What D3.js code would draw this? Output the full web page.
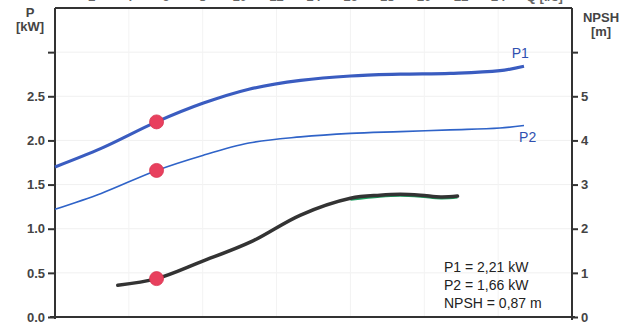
<!DOCTYPE html>
<html><head><meta charset="utf-8">
<script src="https://cdn.jsdelivr.net/npm/d3@7"></script>
<style>body{margin:0;background:#fff}svg{display:block;font-family:"Liberation Sans",Arial,sans-serif}</style>
</head><body><svg id="c" width="629" height="324"></svg>
<script>
// Data
const p1Q   = [0, 2.5, 5.5, 8, 10.5, 13.3, 16, 18.7, 21.4, 24.1, 25.4];
const p1Val = [1.70, 1.91, 2.21, 2.42, 2.58, 2.68, 2.73, 2.75, 2.76, 2.79, 2.84];
const p2Q   = [0, 2.5, 5.5, 8, 10.5, 13.3, 16, 18.7, 21.4, 24.1, 25.4];
const p2Val = [1.22, 1.40, 1.66, 1.83, 1.97, 2.04, 2.08, 2.10, 2.12, 2.14, 2.17];
const npshQ   = [3.4, 5.5, 7.9, 10.6, 13.3, 16, 17.6, 18.7, 19.8, 20.9, 21.8];
const npshVal = [0.72, 0.87, 1.25, 1.70, 2.31, 2.69, 2.76, 2.78, 2.76, 2.72, 2.74];
const dutyQ = 5.5;
const dutyP1 = 2.21, dutyP2 = 1.66, dutyNPSH = 0.87;
const leftTicks = [0, 0.5, 1.0, 1.5, 2.0, 2.5, 3.0];
const leftTickLabels = ["0.0", "0.5", "1.0", "1.5", "2.0", "2.5", ""];
const rightTicks = [0, 1, 2, 3, 4, 5, 6];
const rightTickLabels = ["0", "1", "2", "3", "4", "5", ""];
const topTicks = [2, 4, 6, 8, 10, 12, 14, 16, 18, 20, 22, 24];
const infoLines = ["P1 = 2,21 kW", "P2 = 1,66 kW", "NPSH = 0,87 m"];

const svg = d3.select("#c");
const L = 55, R = 572, T = 8, B = 317;
const x = d3.scaleLinear().domain([0, 28]).range([L, R]);
const yL = d3.scaleLinear().domain([0, 3.5]).range([B, T]);
const yR = d3.scaleLinear().domain([0, 7]).range([B, T]);

// faint grid
svg.append("g").selectAll("line").data(leftTicks.slice(1)).join("line")
  .attr("x1", L).attr("x2", R).attr("y1", d => yL(d)).attr("y2", d => yL(d))
  .attr("stroke", "#f0f0f0").attr("stroke-width", 1);
svg.append("g").selectAll("line").data([4, 8, 12, 16, 20, 24]).join("line")
  .attr("x1", d => x(d)).attr("x2", d => x(d)).attr("y1", T).attr("y2", B)
  .attr("stroke", "#f3f3f3").attr("stroke-width", 1);

// top tick labels (cut off at the top edge, as in the scan)
svg.append("g").selectAll("text").data(topTicks).join("text")
  .attr("x", d => x(d)).attr("y", 1).attr("text-anchor", "middle")
  .attr("font-size", 13).attr("font-weight", "bold").attr("fill", "#666").text(d => d);
svg.append("text").attr("x", x(26.5)).attr("y", 1).attr("text-anchor", "middle")
  .attr("font-size", 13).attr("font-weight", "bold").attr("fill", "#666").text("Q [l/s]");

// frame / axes
const ax = svg.append("g").attr("stroke", "#333").attr("stroke-width", 2).attr("fill", "none");
ax.append("line").attr("x1", L).attr("x2", R).attr("y1", T).attr("y2", T);
ax.append("line").attr("x1", L).attr("x2", L).attr("y1", T).attr("y2", B + 2);
ax.append("line").attr("x1", R).attr("x2", R).attr("y1", T).attr("y2", B + 3);
ax.append("line").attr("x1", L - 5).attr("x2", R + 3).attr("y1", B).attr("y2", B);

const leftAxis = d3.axisLeft(yL).tickValues(leftTicks).tickSize(7).tickPadding(3)
  .tickFormat((d, i) => leftTickLabels[i]);
const gL = svg.append("g").attr("transform", `translate(${L},0)`).call(leftAxis);
gL.select(".domain").remove();
gL.selectAll(".tick line").attr("stroke", "#333").attr("stroke-width", 2);
gL.selectAll(".tick text").attr("font-size", 13).attr("font-weight", "bold").attr("fill", "#444")
  .attr("font-family", "Liberation Sans, Arial, sans-serif");

const rightAxis = d3.axisRight(yR).tickValues(rightTicks).tickSize(6).tickPadding(3)
  .tickFormat((d, i) => rightTickLabels[i]);
const gR = svg.append("g").attr("transform", `translate(${R},0)`).call(rightAxis);
gR.select(".domain").remove();
gR.selectAll(".tick line").attr("stroke", "#333").attr("stroke-width", 2);
gR.selectAll(".tick text").attr("font-size", 13).attr("font-weight", "bold").attr("fill", "#444")
  .attr("font-family", "Liberation Sans, Arial, sans-serif");

// axis titles
const tL = svg.append("text").attr("text-anchor", "middle").attr("font-size", 13).attr("font-weight", "bold").attr("fill", "#444");
tL.append("tspan").attr("x", 30).attr("y", 17).text("P");
tL.append("tspan").attr("x", 30).attr("y", 31).text("[kW]");
const tR = svg.append("text").attr("text-anchor", "middle").attr("font-size", 13).attr("font-weight", "bold").attr("fill", "#444");
tR.append("tspan").attr("x", 601).attr("y", 22).text("NPSH");
tR.append("tspan").attr("x", 601).attr("y", 36).text("[m]");

// curves
const curve = d3.curveMonotoneX;
const lineL = d3.line().x(d => x(d[0])).y(d => yL(d[1])).curve(curve);
const lineR = d3.line().x(d => x(d[0])).y(d => yR(d[1])).curve(d3.curveCatmullRom.alpha(0.5));

svg.append("path").datum(d3.zip(p2Q, p2Val)).attr("d", lineL)
  .attr("fill", "none").attr("stroke", "#2f63c8").attr("stroke-width", 1.6);
svg.append("path").datum(d3.zip(p1Q, p1Val)).attr("d", lineL)
  .attr("fill", "none").attr("stroke", "#3a5cc0").attr("stroke-width", 3.2);

const npsh = d3.zip(npshQ, npshVal);
svg.append("path").datum(npsh.filter(d => d[0] >= 16)).attr("d", lineR)
  .attr("transform", "translate(0,1.3)")
  .attr("fill", "none").attr("stroke", "#1fa060").attr("stroke-width", 2.5);
svg.append("path").datum(npsh).attr("d", lineR)
  .attr("fill", "none").attr("stroke", "#333").attr("stroke-width", 3.5).attr("stroke-linecap", "round");

// labels P1 / P2
svg.append("text").attr("x", x(25.2)).attr("y", yL(2.84) - 8).attr("text-anchor", "middle")
  .attr("font-size", 14).attr("fill", "#3050b0").text("P1");
svg.append("text").attr("x", x(25.6)).attr("y", yL(2.17) + 17).attr("text-anchor", "middle")
  .attr("font-size", 14).attr("fill", "#3050b0").text("P2");

// duty point markers
const markers = [[dutyQ, yL(dutyP1)], [dutyQ, yL(dutyP2)], [dutyQ, yR(dutyNPSH)]];
svg.append("g").selectAll("circle").data(markers).join("circle")
  .attr("cx", d => x(d[0])).attr("cy", d => d[1]).attr("r", 7)
  .attr("fill", "#e8405e").attr("stroke", "#d8334f").attr("stroke-width", 0.8);

// info text
svg.append("g").selectAll("text").data(infoLines).join("text")
  .attr("x", 444).attr("y", (d, i) => 272 + i * 18)
  .attr("font-size", 14).attr("fill", "#222").text(d => d);
</script></body></html>
